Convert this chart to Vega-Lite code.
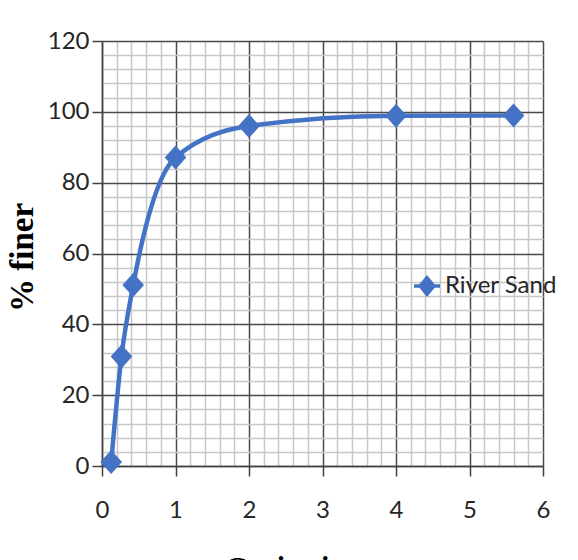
{
  "$schema": "https://vega.github.io/schema/vega-lite/v6.json",
  "width": 441,
  "height": 425,
  "autosize": {"type": "none"},
  "padding": {"left": 102, "top": 41, "right": 35, "bottom": 94},
  "background": "white",
  "config": {"view": {"stroke": null}},
  "data": {
    "values": [
      {"size": 0.125, "finer": 1.1, "series": "River Sand"},
      {"size": 0.265, "finer": 30.9, "series": "River Sand"},
      {"size": 0.425, "finer": 51.1, "series": "River Sand"},
      {"size": 1.0, "finer": 87.1, "series": "River Sand"},
      {"size": 2.0, "finer": 96.0, "series": "River Sand"},
      {"size": 4.0, "finer": 98.9, "series": "River Sand"},
      {"size": 5.6, "finer": 99.0, "series": "River Sand"}
    ]
  },
  "encoding": {
    "x": {
      "field": "size",
      "type": "quantitative",
      "scale": {"domain": [0, 6], "nice": false},
      "axis": {
        "values": [0,0.2,0.4,0.6,0.8,1,1.2,1.4,1.6,1.8,2,2.2,2.4,2.6,2.8,3,3.2,3.4,3.6,3.8,4,4.2,4.4,4.6,4.8,5,5.2,5.4,5.6,5.8,6],
        "grid": true,
        "gridColor": {"condition": {"test": "abs(datum.value - round(datum.value)) < 0.001", "value": "#4a4a4a"}, "value": "#c8c8c8"},
        "gridWidth": 1.5,
        "tickColor": "#404040",
        "tickOpacity": {"condition": {"test": "abs(datum.value - round(datum.value)) < 0.001", "value": 1}, "value": 0},
        "tickSize": 10,
        "tickWidth": 1.5,
        "labelExpr": "abs(datum.value - round(datum.value)) < 0.001 ? '' + round(datum.value) : ''",
        "labelFont": "Lato",
        "labelFontSize": 24,
        "labelColor": "#262626",
        "labelPadding": 22,
        "labelFlush": false,
        "labelOverlap": false,
        "domainColor": "#404040",
        "domainWidth": 1.5,
        "title": "Grain size, mm",
        "titleFont": "Liberation Serif",
        "titleFontWeight": "bold",
        "titleFontSize": 30,
        "titleColor": "#000000",
        "titleBaseline": "alphabetic",
        "titleY": 110
      }
    },
    "y": {
      "field": "finer",
      "type": "quantitative",
      "scale": {"domain": [0, 120], "nice": false},
      "axis": {
        "values": [0,4,8,12,16,20,24,28,32,36,40,44,48,52,56,60,64,68,72,76,80,84,88,92,96,100,104,108,112,116,120],
        "grid": true,
        "gridColor": {"condition": {"test": "datum.value % 20 === 0", "value": "#4a4a4a"}, "value": "#c8c8c8"},
        "gridWidth": 1.5,
        "tickColor": "#404040",
        "tickOpacity": {"condition": {"test": "datum.value % 20 === 0", "value": 1}, "value": 0},
        "tickSize": 10,
        "tickWidth": 1.5,
        "labelExpr": "datum.value % 20 === 0 ? '' + datum.value : ''",
        "labelFont": "Lato",
        "labelFontSize": 24,
        "labelColor": "#262626",
        "labelPadding": 3,
        "labelOverlap": false,
        "domainColor": "#404040",
        "domainWidth": 1.5,
        "title": "% finer",
        "titleFont": "Liberation Serif",
        "titleFontWeight": "bold",
        "titleFontSize": 33,
        "titleColor": "#000000",
        "titleBaseline": "alphabetic",
        "titleAngle": -90,
        "titleX": -70,
        "titleY": 216
      }
    }
  },
  "layer": [
    {
      "mark": {"type": "line", "interpolate": "monotone", "strokeWidth": 4.5, "color": "#4472C4"}
    },
    {
      "mark": {"type": "point", "shape": "M-0.9,0L0,-1L0.9,0L0,1Z", "filled": true, "size": 576, "opacity": 1},
      "encoding": {
        "color": {
          "field": "series",
          "type": "nominal",
          "scale": {"range": ["#4472C4"]},
          "legend": {
            "title": null,
            "orient": "none",
            "legendX": 311,
            "legendY": 231,
            "symbolType": "M-1,-0.13L1,-0.13L1,0.13L-1,0.13ZM0,-0.85L0.7,0L0,0.85L-0.7,0Z",
            "symbolSize": 676,
            "labelFont": "Lato",
            "labelFontSize": 24,
            "labelColor": "#262626",
            "labelOffset": 4,
            "encode": {
              "symbols": {
                "update": {
                  "shape": {"value": "M-1,-0.13L1,-0.13L1,0.13L-1,0.13ZM0,-0.85L0.7,0L0,0.85L-0.7,0Z"},
                  "size": {"value": 676},
                  "fill": {"value": "#4472C4"},
                  "fillOpacity": {"value": 1},
                  "stroke": {"value": "#4472C4"},
                  "strokeOpacity": {"value": 1},
                  "strokeWidth": {"value": 1},
                  "opacity": {"value": 1}
                }
              }
            }
          }
        }
      }
    }
  ]
}
